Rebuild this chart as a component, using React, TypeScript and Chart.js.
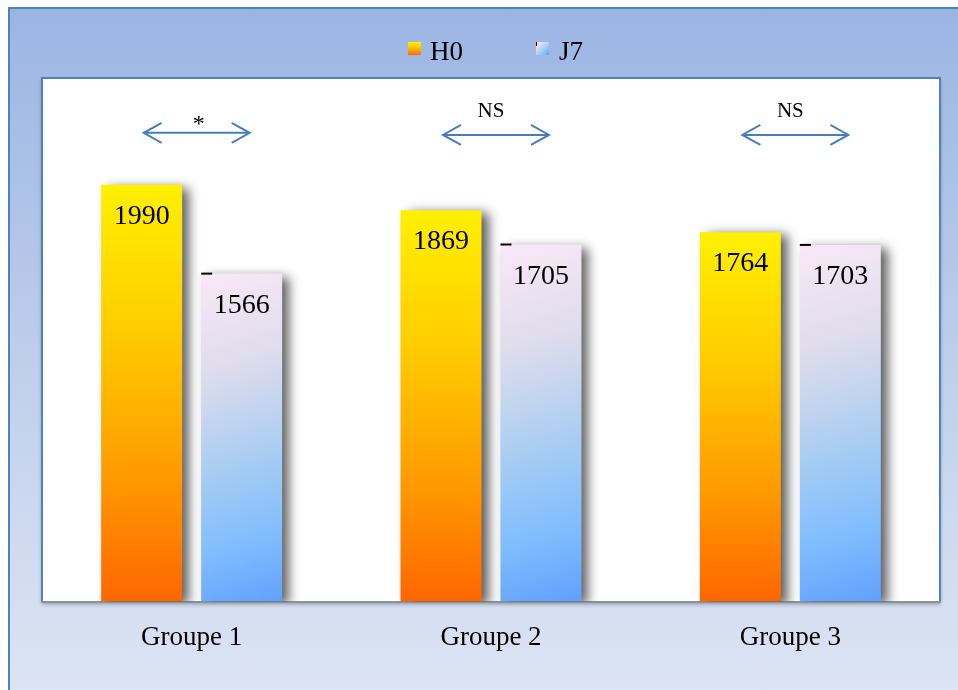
import React, { useEffect, useRef } from "react";
import { Chart, registerables } from "chart.js";

Chart.register(...registerables);

const categories = ["Groupe 1", "Groupe 2", "Groupe 3"];
const seriesNames = ["H0", "J7"];
const h0Values = [1990, 1869, 1764];
const j7Values = [1566, 1705, 1703];
const significanceLabels = ["*", "NS", "NS"];
const significanceLevels = [2238, 2228, 2228];
const yMax = 2500;

const FONT = "'Liberation Serif', 'DejaVu Serif', serif";

function h0Gradient(ctx: CanvasRenderingContext2D, top: number, bottom: number) {
  const g = ctx.createLinearGradient(0, top, 0, bottom);
  g.addColorStop(0, "#fff000");
  g.addColorStop(0.35, "#ffcc00");
  g.addColorStop(0.7, "#ff9a00");
  g.addColorStop(1, "#ff6600");
  return g;
}

function j7Gradient(ctx: CanvasRenderingContext2D, x0: number, top: number, x1: number, bottom: number) {
  const g = ctx.createLinearGradient(x0, top, x1, bottom);
  g.addColorStop(0, "#f9e8f7");
  g.addColorStop(0.28, "#dedcec");
  g.addColorStop(0.55, "#a9cdf2");
  g.addColorStop(0.78, "#80bdfe");
  g.addColorStop(1, "#5f9cfd");
  return g;
}

const plotBoxPlugin = {
  id: "plotBox",
  beforeDraw(chart: any) {
    const { ctx, chartArea: a } = chart;
    ctx.save();
    ctx.shadowColor = "rgba(0,0,0,0.35)";
    ctx.shadowBlur = 4;
    ctx.shadowOffsetY = 2;
    ctx.fillStyle = "#ffffff";
    ctx.fillRect(a.left, a.top, a.right - a.left, a.bottom - a.top);
    ctx.restore();
    ctx.save();
    ctx.strokeStyle = "#4f81bd";
    ctx.lineWidth = 2;
    ctx.beginPath();
    ctx.moveTo(a.left, a.bottom);
    ctx.lineTo(a.left, a.top);
    ctx.lineTo(a.right, a.top);
    ctx.lineTo(a.right, a.bottom);
    ctx.stroke();
    ctx.restore();
  },
};

const barShadowPlugin = {
  id: "barShadow",
  beforeDatasetDraw(chart: any) {
    const ctx = chart.ctx;
    ctx.save();
    ctx.shadowColor = "rgba(0,0,0,0.65)";
    ctx.shadowBlur = 11;
    ctx.shadowOffsetX = 7;
    ctx.shadowOffsetY = 3;
  },
  afterDatasetDraw(chart: any) {
    chart.ctx.restore();
  },
};

const overlayPlugin = {
  id: "overlay",
  afterDatasetsDraw(chart: any) {
    const { ctx, scales } = chart;
    const xs = scales.x;
    const ys = scales.y;
    ctx.save();
    ctx.fillStyle = "#000";
    ctx.font = `28px ${FONT}`;
    ctx.textAlign = "center";
    ctx.textBaseline = "alphabetic";
    chart.data.datasets.forEach((ds: any, di: number) => {
      const meta = chart.getDatasetMeta(di);
      meta.data.forEach((el: any, i: number) => {
        const p = el.getProps(["x", "y", "width"], true);
        ctx.fillText(String(ds.data[i]), p.x, p.y + 39);
        if (di === 1) {
          ctx.fillRect(p.x - p.width / 2, p.y - 1, 11, 2);
        }
      });
    });
    significanceLabels.forEach((lab, i) => {
      const cx = xs.getPixelForValue(i) + 5;
      const y = ys.getPixelForValue(significanceLevels[i]);
      const half = 53;
      ctx.strokeStyle = "#4a7ebb";
      ctx.lineWidth = 2;
      ctx.beginPath();
      ctx.moveTo(cx - half, y);
      ctx.lineTo(cx + half, y);
      ctx.moveTo(cx - half + 18, y - 10);
      ctx.lineTo(cx - half, y);
      ctx.lineTo(cx - half + 18, y + 10);
      ctx.moveTo(cx + half - 18, y - 10);
      ctx.lineTo(cx + half, y);
      ctx.lineTo(cx + half - 18, y + 10);
      ctx.stroke();
      ctx.fillStyle = "#000";
      if (lab === "*") {
        ctx.font = `24px ${FONT}`;
        ctx.fillText(lab, cx + 2, y - 2);
      } else {
        ctx.font = `21px ${FONT}`;
        ctx.fillText(lab, cx - 5, y - 18);
      }
    });
    ctx.restore();
  },
  afterDraw(chart: any) {
    const { ctx, width } = chart;
    const mid = width / 2;
    ctx.save();
    const by = 42;
    const bs = 13;
    const b1x = mid - 71;
    ctx.fillStyle = h0Gradient(ctx, by, by + bs);
    ctx.fillRect(b1x, by, bs, bs);
    const b2x = mid + 57;
    ctx.fillStyle = j7Gradient(ctx, b2x, by, b2x + bs, by + bs);
    ctx.fillRect(b2x, by, bs, bs);
    ctx.fillStyle = "#000";
    ctx.fillRect(b2x, by, 1, 4);
    ctx.font = `27px ${FONT}`;
    ctx.textAlign = "left";
    ctx.textBaseline = "alphabetic";
    ctx.fillText(seriesNames[0], b1x + 22, 60);
    ctx.fillText(seriesNames[1], b2x + 23, 60);
    ctx.restore();
  },
};

export default function App() {
  const ref = useRef<HTMLCanvasElement | null>(null);

  useEffect(() => {
    document.body.style.margin = "0";
    if (!ref.current) return;
    const chart = new Chart(ref.current, {
      type: "bar",
      data: {
        labels: categories,
        datasets: [
          {
            label: seriesNames[0],
            data: h0Values,
            backgroundColor: (c: any) => {
              const ch = c.chart;
              if (!ch.chartArea || c.dataIndex === undefined) return "#ffb000";
              const y = ch.scales.y;
              return h0Gradient(ch.ctx, y.getPixelForValue(c.raw), y.getPixelForValue(0));
            },
            borderWidth: 0,
          },
          {
            label: seriesNames[1],
            data: j7Values,
            backgroundColor: (c: any) => {
              const ch = c.chart;
              if (!ch.chartArea || c.dataIndex === undefined) return "#a9cdf2";
              const y = ch.scales.y;
              const x = ch.scales.x;
              const cx = x.getPixelForValue(c.dataIndex);
              const cw = x.width / categories.length;
              return j7Gradient(
                ch.ctx,
                cx + cw * 0.05,
                y.getPixelForValue(c.raw),
                cx + cw * 0.4,
                y.getPixelForValue(0)
              );
            },
            borderWidth: 0,
          },
        ],
      },
      options: {
        responsive: false,
        animation: false,
        devicePixelRatio: 1,
        layout: { padding: { left: 42, right: 18, top: 78, bottom: 16 } },
        categoryPercentage: 0.668,
        barPercentage: 0.81,
        plugins: {
          legend: { display: false },
          tooltip: { enabled: false },
        },
        scales: {
          x: {
            grid: { display: false, drawTicks: false },
            border: { display: true, color: "#8a929c", width: 2 },
            ticks: {
              color: "#000",
              font: { family: FONT, size: 27 },
              padding: 20,
            },
          },
          y: {
            display: false,
            min: 0,
            max: yMax,
          },
        },
      } as any,
      plugins: [plotBoxPlugin, barShadowPlugin, overlayPlugin],
    });
    return () => chart.destroy();
  }, []);

  return (
    <div style={{ position: "relative", width: 958, height: 690, overflow: "hidden" }}>
      <div
        style={{
          position: "absolute",
          left: 8,
          top: 7,
          width: 980,
          height: 720,
          borderLeft: "2px solid #4f81bd",
          borderTop: "2px solid #4f81bd",
          background: "linear-gradient(to bottom, #9bb5e3 0%, #c3d1ec 55%, #e0e7f4 100%)",
        }}
      />
      <canvas
        ref={ref}
        width={958}
        height={690}
        style={{ position: "absolute", left: 0, top: 0, width: 958, height: 690 }}
      />
    </div>
  );
}
